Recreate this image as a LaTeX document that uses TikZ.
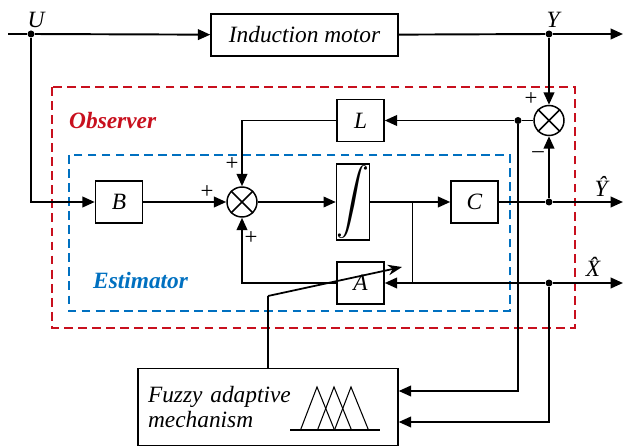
\documentclass[tikz,border=0pt]{standalone}
\usepackage{amsmath}
\usepackage{fontspec}
\setmainfont{Liberation Serif}
\usetikzlibrary{arrows.meta}
\definecolor{obsred}{RGB}{200,16,30}
\definecolor{estblue}{RGB}{0,112,192}
\begin{document}
\begin{tikzpicture}[x=0.02cm,y=-0.02cm,
		blk/.style={draw,line width=0.85pt,inner sep=0pt,minimum width=0.94cm,minimum height=0.84cm,font=\itshape\fontsize{13.3}{16}\selectfont},
		sumnode/.style={draw,circle,line width=0.85pt,minimum size=0.6cm,inner sep=0pt},
		sig/.style={line width=1.1pt,-{Triangle[length=7pt,width=6pt]}},
		wire/.style={line width=1.1pt},
		thinwire/.style={line width=0.6pt},
		dot/.style={circle,fill,inner sep=0pt,minimum size=0.14cm},
		lbl/.style={font=\itshape\fontsize{13.3}{16}\selectfont},
		sign/.style={font=\fontsize{13}{15}\selectfont,inner sep=0pt},
		tag/.style={font=\bfseries\itshape\fontsize{13.3}{16}\selectfont,anchor=west}]
		\useasboundingbox (0,0) rectangle (623,446);
		\draw[obsred,line width=1pt,dash pattern=on 5pt off 3pt] (52,87) rectangle (575,328);
		\draw[estblue,line width=1pt,dash pattern=on 5pt off 3pt] (69,155) rectangle (510,311);
		\node[tag,text=obsred] (obs) at (63,121) {Observer};
		\node[tag,text=estblue] (est) at (87,281) {Estimator};
		\node[blk,minimum width=3.74cm] (motor) at (304.5,35) {Induction motor};
		\node[blk] (L) at (360.5,120.5) {L};
		\node[blk] (B) at (119,202) {B};
		\node[blk,minimum width=0.65cm,minimum height=1.53cm] (int) at (353,202) {\scalebox{1.3}{$\displaystyle\int$}};
		\node[blk] (C) at (474.5,202) {C};
		\node[blk] (A) at (360.5,283) {A};
		\node[sumnode] (s1) at (242,202) {};
		\node[sumnode] (s2) at (549,120.5) {};
		\draw[line width=0.85pt] (s1.north east)--(s1.south west) (s1.north west)--(s1.south east);
		\draw[line width=0.85pt] (s2.north east)--(s2.south west) (s2.north west)--(s2.south east);
		\node[blk,minimum height=1.54cm,inner xsep=0.2cm,text width=4.8cm,align=left,font=\itshape\fontsize{13.3}{14.3}\selectfont] (fuzzy) at (268,407) {Fuzzy adaptive\\mechanism};
		% membership functions
		\draw[thinwire] (290,430)--(380,430);
		\foreach \p in {317,334,351} \draw[thinwire] (\p-16.5,430)--(\p,387)--(\p+17.5,430);
		% junctions
		\node[dot] (u) at (31,34) {};
		\node[dot] (y) at (549,34) {};
		\node[dot] (e) at (518,120.5) {};
		\node[dot] (yh) at (549,202) {};
		\node[dot] (xh) at (549,283) {};
		\coordinate (in) at (8,34);
		\coordinate (yout) at (623,34);
		\coordinate (yhout) at (623,202);
		\coordinate (xhout) at (623,283);
		\coordinate (br) at (412.7,202);
		\coordinate (bx) at (412.7,283);
		\coordinate (tune) at (268,296);
		\coordinate (tuneend) at (402,267);
		% signals
		\draw[wire] (in) -- (u);
		\draw[sig] (u) -- (motor);
		\draw[wire] (motor) -- (y);
		\draw[sig] (y) -- (yout);
		\draw[sig] (y) -- (s2);
		\draw[sig] (u) |- (B);
		\draw[sig] (B) -- (s1);
		\draw[sig] (L) -| (s1);
		\draw[sig] (s1) -- (int);
		\draw[sig] (int) -- (C);
		\draw[wire] (C) -- (yh);
		\draw[sig] (yh) -- (yhout);
		\draw[sig] (yh) -- (s2);
		\draw[wire] (s2) -- (e);
		\draw[sig] (e) -- (L);
		\draw[thinwire] (br) -- (bx);
		\draw[sig] (xh) -- (A);
		\draw[sig] (xh) -- (xhout);
		\draw[sig] (A) -| (s1);
		\draw[sig] (e) |- (fuzzy.east |- 0,391);
		\draw[sig] (xh) |- (fuzzy.east |- 0,422);
		\draw[thinwire] (fuzzy.north) -- (tune);
		\draw[line width=1pt,-{Stealth[length=8pt,width=6pt]}] (tune) -- (tuneend);
		% labels
		\node[lbl] (ulbl) at (36,20) {U};
		\node[lbl] (ylbl) at (553,20) {Y};
		\node[lbl] (yhlbl) at (601,186) {\^{Y}};
		\node[lbl] (xhlbl) at (593,267) {\^{X}};
		\node[sign] (p1) at (207,192) {+};
		\node[sign] (p2) at (232,164) {+};
		\node[sign] (p3) at (251,238) {+};
		\node[sign] (p4) at (531,99) {+};
		\node[sign] (m1) at (538,155) {\textendash};
	\end{tikzpicture}
\end{document}
